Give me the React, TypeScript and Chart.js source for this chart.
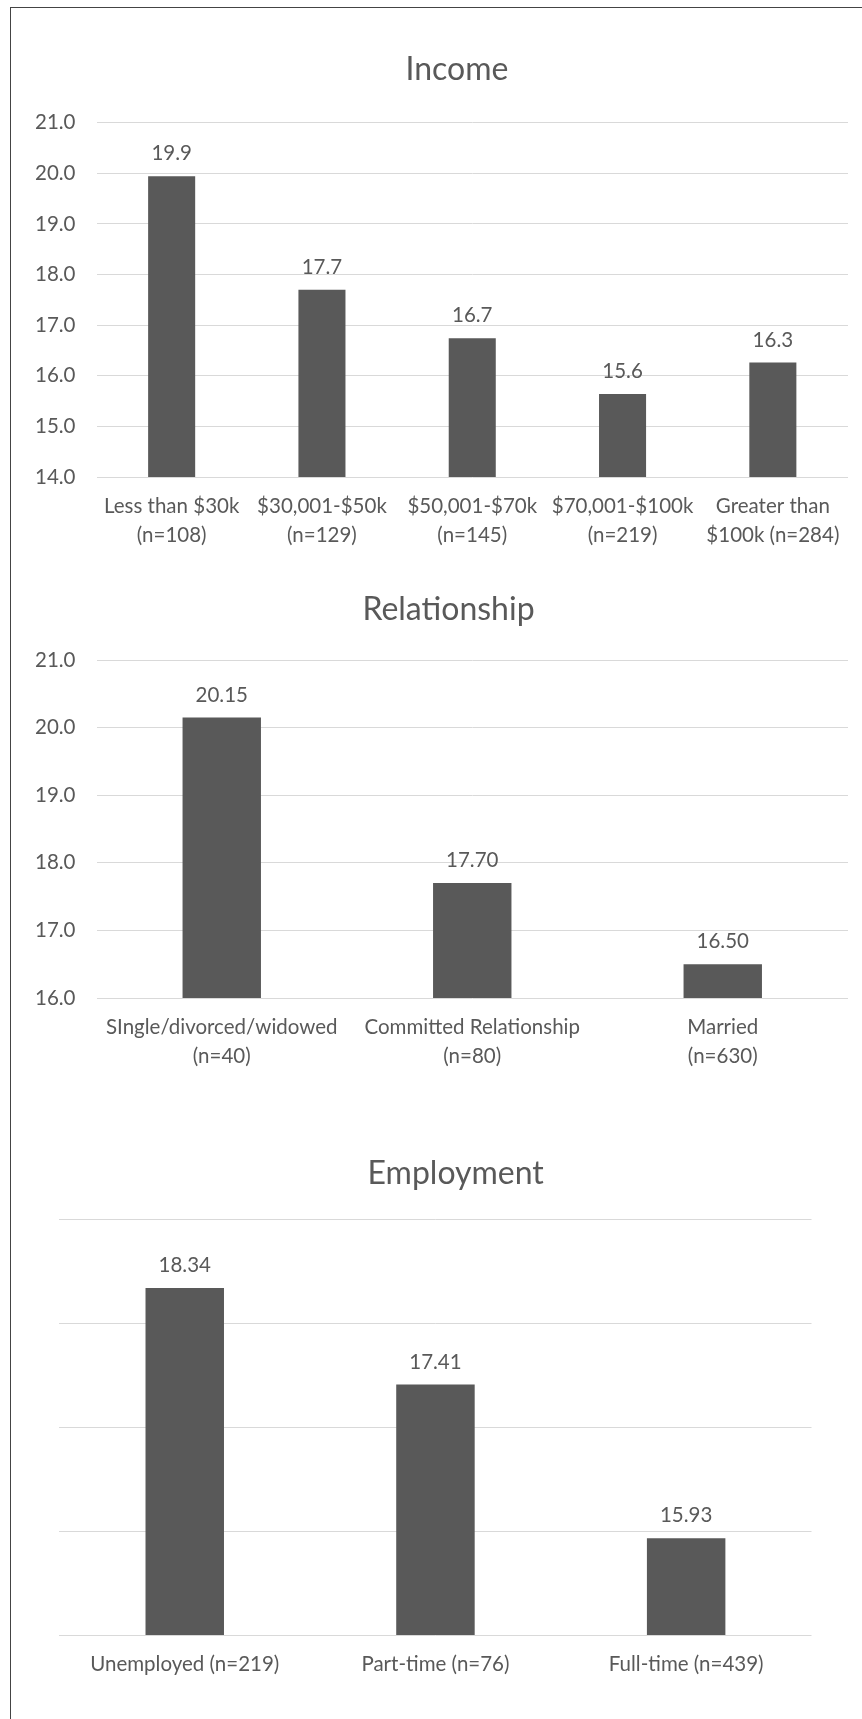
import React, { useEffect, useRef } from 'react';
import { Chart, registerables } from 'chart.js';

Chart.register(...registerables);

const FONT = 'Lato, "Open Sans", sans-serif';
const TEXT = '#595959';
const BAR = '#595959';
const GRID = '#d9d9d9';

// ---------- data ----------
const incomeTitle = 'Income';
const incomeCategories = [
  ['Less than $30k', '(n=108)'],
  ['$30,001-$50k', '(n=129)'],
  ['$50,001-$70k', '(n=145)'],
  ['$70,001-$100k', '(n=219)'],
  ['Greater than', '$100k (n=284)'],
];
const incomeValues = [19.94, 17.7, 16.74, 15.64, 16.26];
const incomeYTicks = [14, 15, 16, 17, 18, 19, 20, 21];

const relationshipTitle = 'Relationship';
const relationshipCategories = [
  ['SIngle/divorced/widowed', '(n=40)'],
  ['Committed Relationship', '(n=80)'],
  ['Married', '(n=630)'],
];
const relationshipValues = [20.15, 17.7, 16.5];
const relationshipYTicks = [16, 17, 18, 19, 20, 21];

const employmentTitle = 'Employment';
const employmentCategories = ['Unemployed (n=219)', 'Part-time (n=76)', 'Full-time (n=439)'];
const employmentValues = [18.34, 17.41, 15.93];
const employmentYTicks = [15, 16, 17, 18, 19];

// ---------- plugin: value labels above bars ----------
const valueLabels = {
  id: 'valueLabels',
  afterLayout(chart: any, _args: any, opts: any) {
    // centre the chart title horizontally at the requested position
    const tb = chart.titleBlock;
    if (tb && typeof opts.titleX === 'number') {
      const w = tb.right - tb.left;
      tb.left = opts.titleX - w / 2;
      tb.right = opts.titleX + w / 2;
    }
  },
  afterDatasetsDraw(chart: any, _args: any, opts: any) {
    const { ctx } = chart;
    const meta = chart.getDatasetMeta(0);
    const data = chart.data.datasets[0].data as number[];
    ctx.save();
    ctx.font = `${opts.size}px ${FONT}`;
    ctx.fillStyle = TEXT;
    ctx.textAlign = 'center';
    ctx.textBaseline = 'middle';
    meta.data.forEach((bar: any, i: number) => {
      ctx.fillText(Number(data[i]).toFixed(opts.decimals), bar.x, bar.y - opts.offset);
    });
    ctx.restore();
  },
};

type PanelProps = {
  title: string;
  categories: any[];
  values: number[];
  yTicks: number[];
  showYLabels: boolean;
  decimals: number;
  left: number;
  top: number;
  width: number;
  height: number;
  yAxisWidth: number;
  padRight: number;
  titleX: number;
  titleCenter: number;
  plotTop: number;
  xAxisHeight: number;
  xPad: number;
};

const TITLE_SIZE = 32;
const LABEL_SIZE = 20.5;
const LABEL_LH = 28.3;

function BarPanel(p: PanelProps) {
  const ref = useRef<HTMLCanvasElement>(null);
  useEffect(() => {
    if (!ref.current) return;
    const tlh = TITLE_SIZE * 1.2;
    const padTop = p.titleCenter - tlh / 2;
    const padBottom = p.plotTop - padTop - tlh;
    const chart = new Chart(ref.current, {
      type: 'bar',
      data: {
        labels: p.categories,
        datasets: [
          {
            data: p.values,
            backgroundColor: BAR,
            borderWidth: 0,
            barPercentage: 0.313,
            categoryPercentage: 1,
          },
        ],
      },
      options: {
        animation: false,
        responsive: false,
        devicePixelRatio: 1,
        layout: { padding: { left: 0, right: p.padRight, top: 0, bottom: 0 } },
        plugins: {
          legend: { display: false },
          tooltip: { enabled: false },
          title: {
            display: true,
            text: p.title,
            color: TEXT,
            font: { family: FONT, size: TITLE_SIZE, weight: 'normal', lineHeight: 1.2 },
            padding: { top: padTop, bottom: padBottom },
          },
          valueLabels: {
            size: LABEL_SIZE,
            decimals: p.decimals,
            offset: 22.5,
            titleX: p.titleX - p.left,
          },
        } as any,
        scales: {
          x: {
            grid: { display: false, drawTicks: false },
            border: { display: false },
            ticks: {
              color: TEXT,
              font: { family: FONT, size: LABEL_SIZE, lineHeight: LABEL_LH / LABEL_SIZE },
              padding: p.xPad,
              maxRotation: 0,
              minRotation: 0,
              autoSkip: false,
            },
            afterFit: (s: any) => {
              s.height = p.xAxisHeight;
            },
          },
          y: {
            min: p.yTicks[0],
            max: p.yTicks[p.yTicks.length - 1],
            grid: { color: GRID, lineWidth: 1, drawTicks: false },
            border: { display: false },
            ticks: {
              display: p.showYLabels,
              stepSize: 1,
              color: TEXT,
              padding: 21,
              font: { family: FONT, size: LABEL_SIZE },
              callback: (v: any) => Number(v).toFixed(1),
            },
            afterFit: (s: any) => {
              s.width = p.yAxisWidth;
            },
          },
        } as any,
      },
      plugins: [valueLabels as any],
    });
    return () => chart.destroy();
  }, []);
  return (
    <canvas
      ref={ref}
      width={p.width}
      height={p.height}
      style={{ position: 'absolute', left: p.left, top: p.top, width: p.width, height: p.height }}
    />
  );
}

export default function App() {
  return (
    <div
      style={{
        position: 'absolute',
        left: 0,
        top: 0,
        width: 862,
        height: 1719,
        overflow: 'hidden',
        background: '#ffffff',
      }}
    >
      <div
        style={{
          position: 'absolute',
          left: 10,
          top: 7,
          width: 900,
          height: 1800,
          borderLeft: '1px solid #444444',
          borderTop: '1px solid #444444',
        }}
      />
      <BarPanel
        title={incomeTitle}
        categories={incomeCategories}
        values={incomeValues}
        yTicks={incomeYTicks}
        showYLabels={true}
        decimals={1}
        left={11}
        top={8}
        width={900}
        height={549}
        yAxisWidth={85.5}
        padRight={63}
        titleX={457}
        titleCenter={62}
        plotTop={114.7}
        xAxisHeight={80}
        xPad={15.5}
      />
      <BarPanel
        title={relationshipTitle}
        categories={relationshipCategories}
        values={relationshipValues}
        yTicks={relationshipYTicks}
        showYLabels={true}
        decimals={2}
        left={11}
        top={560}
        width={900}
        height={518}
        yAxisWidth={85.5}
        padRight={63}
        titleX={448.5}
        titleCenter={49.5}
        plotTop={100}
        xAxisHeight={80}
        xPad={15.5}
      />
      <BarPanel
        title={employmentTitle}
        categories={employmentCategories}
        values={employmentValues}
        yTicks={employmentYTicks}
        showYLabels={false}
        decimals={2}
        left={11}
        top={1120}
        width={900}
        height={585.3}
        yAxisWidth={48.4}
        padRight={99.5}
        titleX={455.7}
        titleCenter={53.5}
        plotTop={99.3}
        xAxisHeight={70}
        xPad={15}
      />
    </div>
  );
}
